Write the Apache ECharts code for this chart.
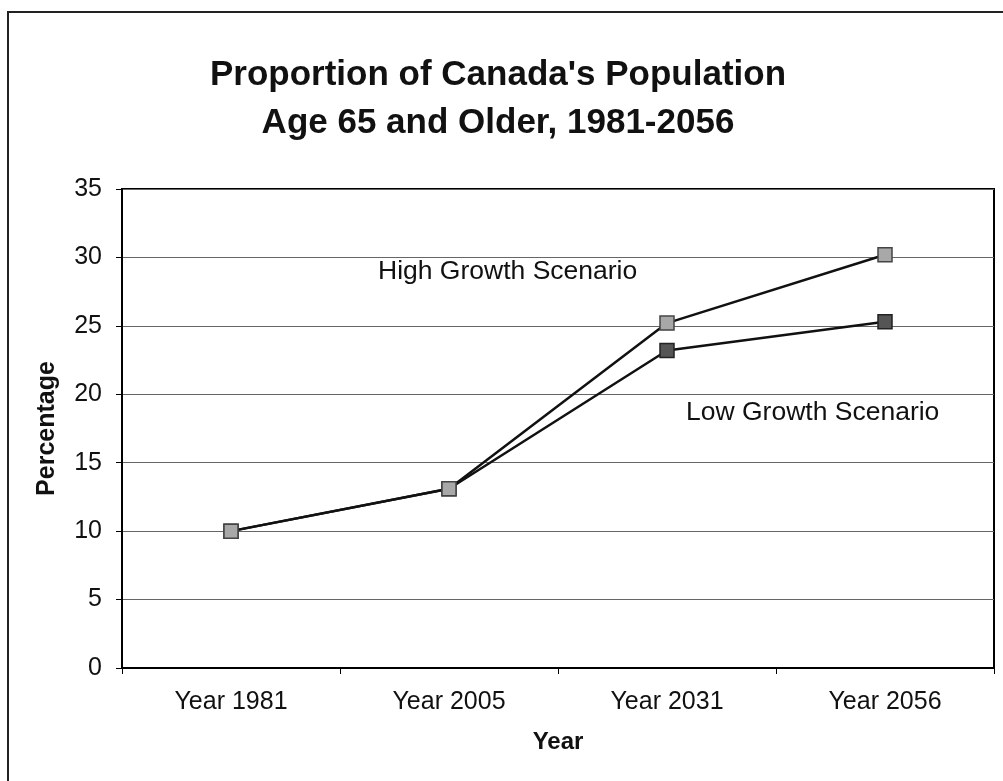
<!DOCTYPE html>
<html>
<head>
<meta charset="utf-8">
<script src="https://cdn.jsdelivr.net/npm/echarts@6/dist/echarts.min.js"></script>
<style>
  html, body { margin: 0; padding: 0; background: #fff; }
  #chart { width: 1003px; height: 781px; }
</style>
</head>
<body>
<div id="chart"></div>
<script>
// Proportion of Canada's population aged 65+, two projection scenarios
const categories = ['Year 1981', 'Year 2005', 'Year 2031', 'Year 2056'];
const lowGrowth = [10.0, 13.1, 23.2, 25.3];
const highGrowth = [10.0, 13.1, 25.2, 30.2];
const yTicks = [0, 5, 10, 15, 20, 25, 30, 35];

const FONT = '"Liberation Sans", Arial, sans-serif';
const chart = echarts.init(document.getElementById('chart'), null, { renderer: 'canvas' });

chart.setOption({
  backgroundColor: '#ffffff',
  animation: false,
  title: {
    text: "Proportion of Canada's Population\nAge 65 and Older, 1981-2056",
    left: 493,
    textAlign: 'center',
    top: 46,
    textStyle: { fontFamily: FONT, fontSize: 35, fontWeight: 'bold', color: '#111', lineHeight: 48 }
  },
  grid: {
    left: 122, right: 9, top: 189, bottom: 113,
    show: true, borderColor: '#000', borderWidth: 2, backgroundColor: 'transparent'
  },
  xAxis: {
    type: 'category',
    data: categories,
    boundaryGap: true,
    name: 'Year',
    nameLocation: 'middle',
    nameGap: 62,
    nameTextStyle: { fontFamily: FONT, fontSize: 24, fontWeight: 'bold', color: '#111' },
    axisLine: { lineStyle: { color: '#000', width: 2 } },
    axisTick: { show: true, alignWithLabel: false, length: 6, lineStyle: { color: '#000', width: 1 } },
    axisLabel: { fontFamily: FONT, fontSize: 25, color: '#111', margin: 22 },
    splitLine: { show: false }
  },
  yAxis: {
    type: 'value',
    min: yTicks[0],
    max: yTicks[yTicks.length - 1],
    interval: yTicks[1] - yTicks[0],
    name: 'Percentage',
    nameLocation: 'middle',
    nameGap: 62,
    nameRotate: 90,
    nameTextStyle: { fontFamily: FONT, fontSize: 25, fontWeight: 'bold', color: '#111' },
    axisLine: { show: true, lineStyle: { color: '#000', width: 2 } },
    axisTick: { show: true, length: 6, lineStyle: { color: '#000', width: 1 } },
    axisLabel: { fontFamily: FONT, fontSize: 25, color: '#111', margin: 20 },
    splitLine: { show: true, lineStyle: { color: '#666', width: 1 } }
  },
  series: [
    {
      name: 'Low Growth Scenario',
      type: 'line',
      data: lowGrowth,
      symbol: 'rect',
      symbolSize: 14,
      lineStyle: { color: '#111', width: 2.5 },
      itemStyle: { color: '#555', borderColor: '#222', borderWidth: 1.5 },
      z: 2
    },
    {
      name: 'High Growth Scenario',
      type: 'line',
      data: highGrowth,
      symbol: 'rect',
      symbolSize: 14,
      lineStyle: { color: '#111', width: 2.5 },
      itemStyle: { color: '#a8a8a8', borderColor: '#444', borderWidth: 1.5 },
      z: 3
    }
  ],
  graphic: [
    // outer frame around the whole chart
    {
      type: 'rect',
      shape: { x: 8, y: 12, width: 1010, height: 800 },
      style: { fill: 'none', stroke: '#222', lineWidth: 2 },
      silent: true
    },
    {
      type: 'text',
      left: 378, top: 258,
      style: { text: 'High Growth Scenario', font: '26.5px ' + FONT, fill: '#111' }
    },
    {
      type: 'text',
      left: 686, top: 399,
      style: { text: 'Low Growth Scenario', font: '26.5px ' + FONT, fill: '#111' }
    }
  ]
});
</script>
</body>
</html>
